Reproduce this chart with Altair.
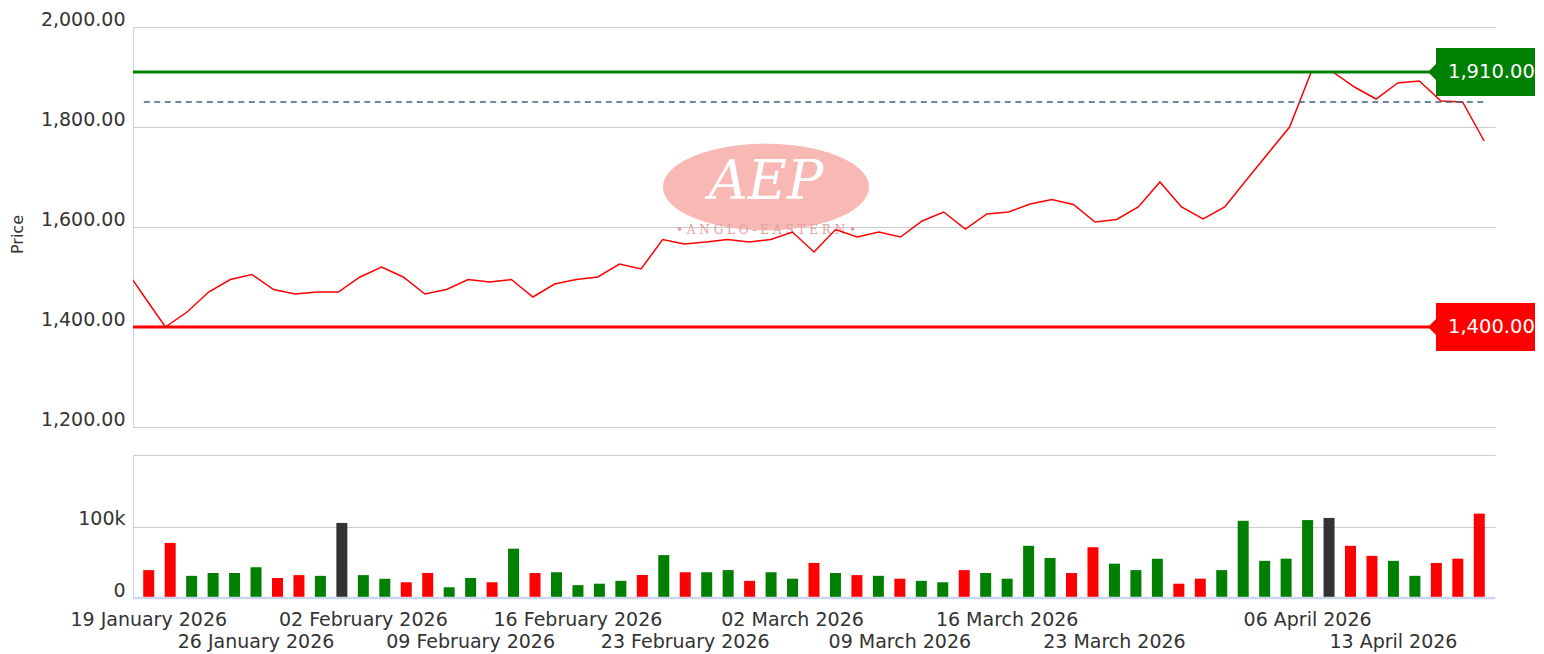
import altair as alt
import pandas as pd

# ---------------- data ----------------
holidays = ["2026-04-03", "2026-04-06"]
trade_dates = [d.strftime("%Y-%m-%d") for d in pd.bdate_range("2026-01-16", "2026-04-17")
               if d.strftime("%Y-%m-%d") not in holidays]

# closing prices (first value = 16 Jan 2026, just before the visible window)
close_prices = [1525, 1462, 1400, 1430, 1470, 1495, 1505, 1475, 1466, 1470,
                1470, 1500, 1520, 1500, 1466, 1475, 1495, 1490, 1495, 1460,
                1486, 1495, 1500, 1526, 1516, 1575, 1566, 1570, 1575, 1570,
                1575, 1590, 1550, 1595, 1580, 1590, 1580, 1612, 1630, 1596,
                1626, 1630, 1646, 1655, 1645, 1610, 1615, 1640, 1690, 1640,
                1616, 1640, 1694, 1747, 1800, 1910, 1910, 1880, 1856, 1888,
                1892, 1852, 1850, 1772]

# volumes from 19 Jan 2026
volumes = [39000, 77000, 31000, 35000, 35000, 43000, 28000, 32000, 31000, 105000,
           32000, 27000, 22000, 35000, 15000, 28000, 22000, 69000, 35000, 36000,
           18000, 20000, 24000, 32000, 60000, 36000, 36000, 39000, 24000, 36000,
           27000, 49000, 35000, 32000, 31000, 27000, 24000, 22000, 39000, 35000,
           27000, 73000, 56000, 35000, 71000, 48000, 39000, 55000, 20000, 27000,
           39000, 108000, 52000, 55000, 109000, 112000, 73000, 59000, 52000, 31000,
           49000, 55000, 118000]

level_values = [1910, 1400]
level_colors = ["#008000", "#ff0000"]
dashed_level = 1850

tick_labels = ["19 January 2026", "26 January 2026", "02 February 2026", "09 February 2026",
               "16 February 2026", "23 February 2026", "02 March 2026", "09 March 2026",
               "16 March 2026", "23 March 2026", "06 April 2026", "13 April 2026"]
tick_dates = ["2026-01-19", "2026-01-26", "2026-02-02", "2026-02-09", "2026-02-16",
              "2026-02-23", "2026-03-02", "2026-03-09", "2026-03-16", "2026-03-23",
              "2026-04-06", "2026-04-13"]
tick_rows = [1, 2, 1, 2, 1, 2, 1, 2, 1, 2, 1, 2]

# ---------------- tables ----------------
first = trade_dates.index("2026-01-19")
price_df = pd.DataFrame({"idx": [i - first for i in range(len(trade_dates))],
                         "date": trade_dates, "price": close_prices})
dirs = []
for i in range(first, len(close_prices)):
    d = close_prices[i] - close_prices[i - 1]
    dirs.append("up" if d > 0 else ("down" if d < 0 else "flat"))
vol_df = pd.DataFrame({"idx": list(range(len(volumes))), "volume": volumes, "dir": dirs})

def pos_of(day):
    for k, d in enumerate(trade_dates):
        if d >= day:
            return k - first
    return None

tick_df = pd.DataFrame({"idx": [pos_of(d) for d in tick_dates], "label": tick_labels, "row": tick_rows})
level_df = pd.DataFrame({"level": level_values, "color": level_colors})
dash_df = pd.DataFrame({"start": [0], "end": [len(volumes) - 1], "value": [dashed_level]})
one = pd.DataFrame({"k": [0]})

# ---------------- styling ----------------
W, PH, VH = 1362, 400, 143
FONT = "DejaVu Sans"
TXT = "#333333"
GRID = "#cccccc"
AXIS_LINE = "#ccd6eb"

xs = alt.Scale(domain=[-0.5, len(volumes) - 0.5], nice=False, zero=False)
py = alt.Scale(domain=[1200, 2000], nice=False, zero=False)
vy = alt.Scale(domain=[0, 200000], nice=False, zero=False)

price_axis = alt.Axis(values=[1200, 1400, 1600, 1800, 2000], format=",.2f", title="Price",
                      ticks=False, tickSize=0, labelPadding=8, labelFontSize=19, labelFont=FONT,
                      labelColor=TXT, labelBaseline="alphabetic", labelOffset=-2,
                      domainColor=AXIS_LINE, domainWidth=1, gridColor=GRID, gridWidth=1,
                      titleAngle=270, titleX=-108, titleY=207, titleBaseline="bottom",
                      titleAlign="center", titleFontSize=16, titleFont=FONT, titleColor=TXT,
                      titleFontWeight="normal")

vol_axis = alt.Axis(values=[0, 100000, 200000],
                    labelExpr="datum.value >= 200000 ? '' : (datum.value == 0 ? '0' : format(datum.value / 1000, 'd') + 'k')",
                    title="", ticks=False, tickSize=0, labelPadding=8, labelFontSize=19,
                    labelFont=FONT, labelColor=TXT, labelBaseline="alphabetic", labelOffset=-2,
                    domainColor=AXIS_LINE, domainWidth=1, gridColor=GRID, gridWidth=1)

# ---------------- price pane ----------------
wm_ellipse = alt.Chart(one).mark_point(
    shape="M-1,0A1,0.42,0,1,0,1,0A1,0.42,0,1,0,-1,0Z", filled=True, size=206 ** 2,
    color="#f8b8b4", opacity=1, strokeWidth=0
).encode(x=alt.value(633), y=alt.value(160))
wm_text = alt.Chart(one).mark_text(
    font="DejaVu Serif", fontStyle="italic", fontSize=54, color="white", baseline="middle"
).encode(x=alt.value(633), y=alt.value(156), text=alt.value("AEP"))
wm_sub = alt.Chart(one).mark_text(
    font="DejaVu Serif", fontSize=12, color="#e3a19e", baseline="middle"
).encode(x=alt.value(633), y=alt.value(203), text=alt.value("• A N G L O - E A S T E R N •"))

line = alt.Chart(price_df).mark_line(color="#ff0000", strokeWidth=1.5, clip=True).encode(
    x=alt.X("idx:Q", scale=xs, axis=None),
    y=alt.Y("price:Q", scale=py, axis=price_axis),
)

dashed = alt.Chart(dash_df).mark_rule(color="#3b6087", strokeWidth=1.5, strokeDash=[6, 4.5]).encode(
    x=alt.X("start:Q", scale=xs), x2="end:Q", y=alt.Y("value:Q", scale=py)
)

level_rules = alt.Chart(level_df).mark_rule(strokeWidth=3).encode(
    y=alt.Y("level:Q", scale=py), color=alt.Color("color:N", scale=None)
)
level_boxes = alt.Chart(level_df).mark_rect(yOffset=-24, y2Offset=24).encode(
    x=alt.value(1303), x2=alt.value(1402), y=alt.Y("level:Q", scale=py), y2=alt.Y2("level"),
    color=alt.Color("color:N", scale=None)
)
level_ptr = alt.Chart(level_df).mark_point(
    shape="M-1,0L0,-1L0,1Z", filled=True, size=324, opacity=1, strokeWidth=0
).encode(x=alt.value(1304), y=alt.Y("level:Q", scale=py), color=alt.Color("color:N", scale=None))
level_txt = alt.Chart(level_df).mark_text(
    align="left", baseline="middle", fontSize=19.5, font=FONT, color="white"
).encode(x=alt.value(1315), y=alt.Y("level:Q", scale=py), text=alt.Text("level:Q", format=",.2f"))

price_pane = alt.layer(
    wm_ellipse, wm_text, wm_sub, line, dashed, level_rules, level_boxes, level_ptr, level_txt
).properties(width=W, height=PH)

# ---------------- volume pane ----------------
bars = alt.Chart(vol_df).mark_bar(size=11).encode(
    x=alt.X("idx:Q", scale=xs, axis=None),
    y=alt.Y("volume:Q", scale=vy, axis=vol_axis),
    color=alt.Color("dir:N", scale=alt.Scale(domain=["up", "down", "flat"],
                                             range=["#008000", "#ff0000", "#333333"]), legend=None),
)
base = alt.Chart(one).mark_rule(color=AXIS_LINE, strokeWidth=2.5).encode(y=alt.datum(0))
row1 = alt.Chart(tick_df).transform_filter("datum.row == 1").mark_text(
    fontSize=19, font=FONT, color=TXT, baseline="middle"
).encode(x=alt.X("idx:Q", scale=xs), y=alt.value(165), text="label:N")
row2 = alt.Chart(tick_df).transform_filter("datum.row == 2").mark_text(
    fontSize=19, font=FONT, color=TXT, baseline="middle"
).encode(x=alt.X("idx:Q", scale=xs), y=alt.value(186.5), text="label:N")

vol_pane = alt.layer(bars, base, row1, row2).properties(width=W, height=VH)

chart = alt.vconcat(price_pane, vol_pane, spacing=26).properties(
    padding={"left": 9, "top": 10, "right": 5, "bottom": 0},
    background="white",
).configure_view(strokeWidth=0)

chart.save("out.html", embed_options={"renderer": "svg", "actions": False})
